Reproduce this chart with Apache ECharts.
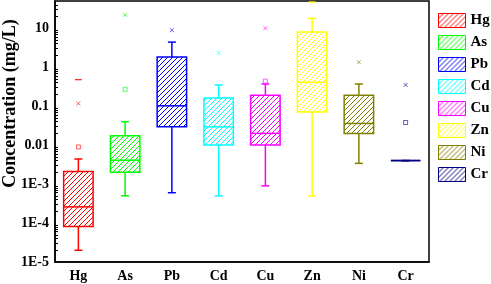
<!DOCTYPE html>
<html>
<head>
<meta charset="utf-8">
<script src="https://cdn.jsdelivr.net/npm/echarts@6/dist/echarts.min.js"></script>
<style>
html,body{margin:0;padding:0;background:#fff;}
#main{width:491px;height:284px;}
</style>
</head>
<body>
<div id="main"></div>
<script>
// 元素名称
var elements = ['Hg', 'As', 'Pb', 'Cd', 'Cu', 'Zn', 'Ni', 'Cr'];
var colors = ['#ff0000', '#00ff00', '#0000ff', '#00ffff', '#ff00ff', '#ffff00', '#808000', '#000080'];

// 箱线图数据 (mg/L)
var whiskerLow = [2e-5, 5e-4, 6e-4, 5e-4, 9e-4, 5e-4, 0.0034, 0.004];
var q1 = [8.1e-5, 0.002, 0.0294, 0.01, 0.01, 0.071, 0.02, 0.004];
var median = [2.6e-4, 0.0041, 0.102, 0.0294, 0.02, 0.41, 0.036, 0.004];
var q3 = [0.0021, 0.0173, 1.84, 0.163, 0.19, 8.0, 0.19, 0.004];
var whiskerHigh = [0.0044, 0.040, 4.4, 0.35, 0.37, 17.8, 0.37, 0.004];

// 异常点
var crossPts = [0.117, 22, 8.9, 2.33, 10, null, 1.34, 0.35];
var meanPts = [0.009, 0.27, null, null, 0.44, null, null, 0.038];
var maxPts = [0.48, null, null, null, null, 47, null, null];

// 坐标刻度
var yTickValues = [1e-5, 1e-4, 1e-3, 0.01, 0.1, 1, 10];
var yTickLabels = ['1E-5', '1E-4', '1E-3', '0.01', '0.1', '1', '10'];
var yMinorTicks = [];
for (var e = -5; e <= 1; e++) {
    for (var k = 2; k <= 9; k++) {
        var mv = k * Math.pow(10, e);
        if (mv < 50) yMinorTicks.push(mv);
    }
}

var font = "'Liberation Serif', 'Times New Roman', serif";

//斜线填充
function hatch(color) {
    var c = document.createElement('canvas');
    c.width = 5; c.height = 5;
    var g = c.getContext('2d');
    g.strokeStyle = color;
    g.lineWidth = 1;
    g.beginPath();
    g.moveTo(0, 5); g.lineTo(5, 0);
    g.moveTo(-1, 1); g.lineTo(1, -1);
    g.moveTo(4, 6); g.lineTo(6, 4);
    g.stroke();
    return {image: c, repeat: 'repeat'};
}

function renderBox(params, api) {
    var i = api.value(0);
    var col = colors[i];
    var lo = api.coord([i, api.value(1)]);
    var p1 = api.coord([i, api.value(2)]);
    var pm = api.coord([i, api.value(3)]);
    var p3 = api.coord([i, api.value(4)]);
    var hi = api.coord([i, api.value(5)]);
    var band = api.coord([1, api.value(3)])[0] - api.coord([0, api.value(3)])[0];
    var w = band * 0.63;
    var x = pm[0];
    var cap = 4;
    var ls = {stroke: col, lineWidth: 1.5};
    return {
        type: 'group',
        children: [
            {type: 'line', shape: {x1: x, y1: hi[1], x2: x, y2: p3[1]}, style: ls},
            {type: 'line', shape: {x1: x, y1: p1[1], x2: x, y2: lo[1]}, style: ls},
            {type: 'line', shape: {x1: x - cap, y1: hi[1], x2: x + cap, y2: hi[1]}, style: ls},
            {type: 'line', shape: {x1: x - cap, y1: lo[1], x2: x + cap, y2: lo[1]}, style: ls},
            {type: 'rect', shape: {x: x - w / 2, y: p3[1], width: w, height: p1[1] - p3[1]},
                style: {fill: hatch(col), stroke: col, lineWidth: 1.5}},
            {type: 'line', shape: {x1: x - w / 2, y1: pm[1], x2: x + w / 2, y2: pm[1]}, style: ls}
        ]
    };
}

var series = [];
var legendData = [];
elements.forEach(function (name, i) {
    series.push({
        name: name,
        type: 'custom',
        renderItem: renderBox,
        itemStyle: {color: hatch(colors[i]), borderColor: colors[i], borderWidth: 1},
        encode: {x: 0, y: [1, 2, 3, 4, 5]},
        data: [[i, whiskerLow[i], q1[i], median[i], q3[i], whiskerHigh[i]]],
        z: 2
    });
    legendData.push({
        name: name,
        itemStyle: {color: hatch(colors[i]), borderColor: colors[i], borderWidth: 1}
    });
});

function points(arr, style) {
    var out = [];
    arr.forEach(function (v, i) {
        if (v != null) {
            out.push({value: [i, v], itemStyle: {color: style === 'fill' ? colors[i] : 'none', borderColor: colors[i], borderWidth: 0.8}});
        }
    });
    return out;
}

series.push({
    type: 'scatter', name: 'cross',
    symbol: 'path://M0,0L10,10M10,0L0,10',
    symbolSize: 4,
    data: points(crossPts),
    z: 5
});
series.push({
    type: 'scatter', name: 'mean',
    symbol: 'rect',
    symbolSize: 4,
    data: points(meanPts),
    z: 5
});
series.push({
    type: 'scatter', name: 'max',
    symbol: 'rect',
    symbolSize: [5, 1],
    data: points(maxPts, 'fill'),
    z: 5
});

var chart = echarts.init(document.getElementById('main'));
chart.setOption({
    animation: false,
    backgroundColor: '#fff',
    grid: {left: 55, right: 62, top: 1, bottom: 22, show: true, borderColor: '#000', borderWidth: 1.5,
        containLabel: false, outerBoundsMode: 'none'},
    legend: {
        data: legendData,
        orient: 'vertical',
        left: 433,
        top: 8,
        itemWidth: 27,
        itemHeight: 14,
        itemGap: 7,
        icon: 'rect',
        textStyle: {fontFamily: font, fontWeight: 'bold', fontSize: 15, color: '#000'}
    },
    xAxis: {
        type: 'category',
        data: elements,
        boundaryGap: true,
        axisLine: {lineStyle: {color: '#000', width: 1.5}},
        axisTick: {inside: true, alignWithLabel: true, length: 4, lineStyle: {color: '#000'}},
        axisLabel: {fontFamily: font, fontWeight: 'bold', fontSize: 14, color: '#000', margin: 7},
        splitLine: {show: false}
    },
    yAxis: [{
        type: 'log',
        logBase: 10,
        min: 1e-5,
        max: 50,
        name: 'Concentration (mg/L)',
        nameLocation: 'middle',
        nameGap: 36,
        nameMoveOverlap: false,
        nameTextStyle: {fontFamily: font, fontWeight: 'bold', fontSize: 18, color: '#000', padding: [0, 0, 0, 56]},
        axisLine: {show: true, lineStyle: {color: '#000', width: 1.5}},
        axisTick: {inside: true, length: 5, customValues: yTickValues, lineStyle: {color: '#000'}},
        axisLabel: {
            customValues: yTickValues,
            fontFamily: font, fontWeight: 'bold', fontSize: 14, color: '#000', margin: 6,
            formatter: function (v) {
                var best = 0, d = 1e9;
                yTickValues.forEach(function (t, j) {
                    var dd = Math.abs(Math.log10(t) - Math.log10(v));
                    if (dd < d) { d = dd; best = j; }
                });
                return yTickLabels[best];
            }
        },
        splitLine: {show: false}
    }, {
        type: 'log',
        logBase: 10,
        min: 1e-5,
        max: 50,
        position: 'left',
        axisLine: {show: false},
        axisTick: {show: true, inside: true, length: 3, customValues: yMinorTicks, lineStyle: {color: '#000', width: 1}},
        axisLabel: {show: false, customValues: yMinorTicks},
        splitLine: {show: false}
    }],
    series: series
});
</script>
</body>
</html>
